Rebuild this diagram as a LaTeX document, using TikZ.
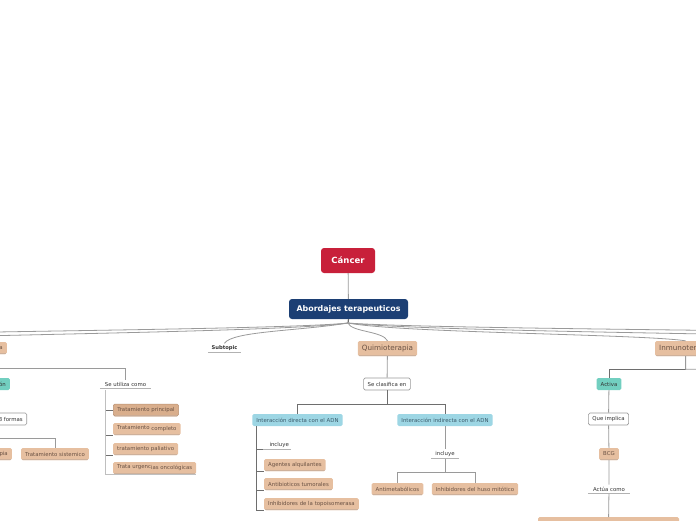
\documentclass[tikz,border=0pt]{standalone}
\usepackage{fontspec}
\setmainfont{DejaVu Sans}
\definecolor{cancerred}{HTML}{C8203A}
\definecolor{navy}{HTML}{1C3F74}
\definecolor{peach}{HTML}{E6BFA0}
\definecolor{peachdark}{HTML}{D9AE8C}
\definecolor{peachedge}{HTML}{B98F70}
\definecolor{peachtext}{HTML}{6A5244}
\definecolor{tealc}{HTML}{72CFC0}
\definecolor{skyc}{HTML}{9DD6E4}
\definecolor{skytext}{HTML}{3C5C6C}
\definecolor{linkgray}{HTML}{9A9A9A}
\definecolor{linkdark}{HTML}{6E6E6E}
\tikzset{
	box/.style = {rounded corners = 1.5pt, inner xsep = 4pt, inner ysep = 0pt, minimum height = 12pt, font = \fontsize{5.4}{6}\selectfont},
	peachbox/.style = {box, fill = peach, text = peachtext, path picture = {\draw [peachedge!70, line width = 1.2pt] (path picture bounding box.south west) -- (path picture bounding box.south east);}},
	bigpeach/.style = {peachbox, minimum height = 15pt, font = \fontsize{7.2}{8}\selectfont},
	tealbox/.style = {box, fill = tealc, text = black!80},
	skybox/.style = {box, fill = skyc, text = skytext},
	whitebox/.style = {box, draw = linkgray, line width = 0.6pt, fill = white, text = black!80},
	plain/.style = {inner xsep = 0pt, inner ysep = 2pt, text = black!80, font = \fontsize{5.4}{6}\selectfont},
	link/.style = {draw = linkgray, line width = 0.8pt}
}
\begin{document}
\begin{tikzpicture}[x = 1pt, y = -1pt]
	\useasboundingbox (0,0) rectangle (696,520);
	\clip (0,0) rectangle (696,520);
	\node [rounded corners = 3pt, fill = cancerred, text = white, minimum width = 54pt, minimum height = 25pt, font = \fontsize{8.5}{10}\selectfont\bfseries] (cancer) at (348,260.5) {Cáncer};
	\node [rounded corners = 3pt, fill = navy, text = white, minimum width = 119pt, minimum height = 20pt, font = \fontsize{7.9}{9}\selectfont\bfseries] (abordajes) at (348.5,309) {Abordajes terapeuticos};
	\coordinate (hub) at (348,323);
	\draw [link] (cancer) -- (abordajes);
	\draw [link, draw = linkdark, line width = 1.2pt] (abordajes.south) -- (hub);
	\coordinate (offleft1) at (-60,333);
	\coordinate (offleft2) at (-60,337);
	\coordinate (offright1) at (760,331);
	\coordinate (offright2) at (760,335);
	\coordinate (offright3) at (760,369);

	\node [peachbox, anchor = east, text width = 60pt, align = flush right] (radio) at (7,348) {a};
	\node [plain, minimum width = 33pt, font = \fontsize{5.2}{6}\selectfont\bfseries] (sub) at (224.5,348) {Subtopic};
	\node [bigpeach] (quimio) at (387.5,348.5) {Quimioterapia};
	\node [bigpeach, anchor = west] (inmuno) at (655,348.5) {Inmunoterapia};
	\draw [link] (hub) .. controls (300,328) and (100,330) .. (offleft1);
	\draw [link] (hub) .. controls (300,330) and (100,333) .. (offleft2);
	\draw [link] (hub) .. controls (300,331) and (232,331) .. (sub.north);
	\draw [link] (hub) .. controls (351,332) and (383,331) .. (quimio.north);
	\draw [link] (hub) .. controls (400,333) and (640,334) .. (inmuno.north);
	\draw [link] (hub) .. controls (400,327) and (600,329) .. (offright1);
	\draw [link] (hub) .. controls (400,329) and (600,332) .. (offright2);

	\node [tealbox, anchor = east, text width = 30pt, align = flush right] (clasif) at (10,384) {ón};
	\node [plain, minimum width = 51pt] (utiliza) at (125.5,384) {Se utiliza como};
	\draw [link] (radio.south) -- ++(0,14) -| (utiliza.north);
	\draw [link] (radio.south) -- ++(0,14) -| (clasif.north);
	\node [whitebox, anchor = east, text width = 60pt, align = flush right] (formas) at (27,419) {3 formas};
	\draw [link] (clasif.south) -- (formas.north);
	\node [peachbox, anchor = east, text width = 30pt, align = flush right] (tera) at (12,454) {pia};
	\node [peachbox] (sistemico) at (55,454) {Tratamiento sistemico};
	\draw [link] (formas.south) -- ++(0,13) -| (tera.north);
	\draw [link] (formas.south) -- ++(0,13) -| (sistemico.north);
	\coordinate (ustem) at (105,390);
	\node [peachbox, fill = peachdark, draw = peachedge, line width = 0.5pt, anchor = west] (principal) at (113,410) {Tratamiento principal};
	\node [peachbox, anchor = west] (completo) at (113,429) {Tratamiento \raisebox{-1pt}{completo}};
	\node [peachbox, anchor = west] (paliativo) at (113,449) {tratamiento paliativo};
	\node [peachbox, anchor = west] (urgencias) at (113,468) {Trata urgenc\raisebox{-1pt}{ias oncológicas}};
	\draw [link, draw = linkdark] (ustem) |- (principal.west);
	\draw [link, draw = linkdark] (ustem) |- (completo.south west);
	\draw [link, draw = linkdark] (ustem) |- (paliativo.south west);
	\draw [link, draw = black!25] (ustem) |- (urgencias.south east);

	\node [whitebox] (clasifica) at (387,384) {Se clasifica en};
	\node [skybox] (directa) at (297.5,420) {Interacción directa con el ADN};
	\node [skybox] (indirecta) at (445,420) {Interacción indirecta con el ADN};
	\draw [link] (quimio) -- (clasifica);
	\draw [link, draw = linkdark] (clasifica.south) -- ++(0,14) -| (directa.north);
	\draw [link, draw = linkdark] (clasifica.south) -- ++(0,14) -| (indirecta.north);
	\coordinate (dstem) at (256,426);
	\node [plain, minimum width = 28pt, anchor = west] (incluye1) at (263,445) {\hspace{4pt}incluye\hfill};
	\draw [link, draw = linkdark] (dstem) |- (incluye1.south west);
	\foreach \n/\y/\t in {agentes/465/Agentes alquilantes, antibioticos/484/Antibioticos tumorales, topo/504/Inhibidores de la topoisomerasa}{
	\node [peachbox, anchor = west] (\n) at (264,\y) {\t};
	\draw [link, draw = linkdark] (dstem) |- (\n.south west);
	}
	\node [plain, minimum width = 28pt] (incluye2) at (445,454) {incluye};
	\draw [link] (indirecta) -- (incluye2);
	\node [peachbox] (antimeta) at (397.5,489) {Antimetabólicos};
	\node [peachbox] (huso) at (475,489) {Inhibidores del huso mitótico};
	\draw [link] (incluye2.south) -- ++(0,14) -| (antimeta.north);
	\draw [link] (incluye2.south) -- ++(0,14) -| (huso.north);

	\node [tealbox] (activa) at (609,384) {Activa};
	\node [whitebox] (implica) at (608.5,419) {Que implica};
	\node [peachbox] (bcg) at (609,454) {BCG};
	\node [plain, minimum width = 42pt] (actua) at (609,489) {Actúa como};
	\node [peachbox, anchor = north, minimum width = 141pt, minimum height = 14pt] (efecto) at (608.5,517) {};
	\draw [link, draw = linkdark] (inmuno.south) -- ++(0,13) -| (activa.north);
	\draw [link] (inmuno.south) -- ++(0,13) -- (offright3);
	\draw [link] (activa) -- (implica) -- (bcg) -- (actua) -- (efecto);

	\foreach \n in {sub, utiliza, incluye1, incluye2, actua}{
	\draw [link, draw = black!30] (\n.south west) -- (\n.south east);
	}
\end{tikzpicture}
\end{document}
